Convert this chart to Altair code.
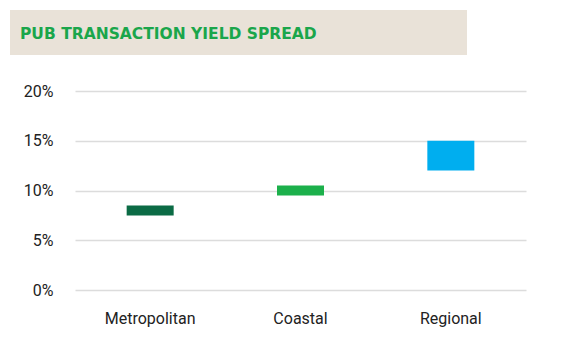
import altair as alt
import pandas as pd

regions = ["Metropolitan", "Coastal", "Regional"]
low = [0.075, 0.095, 0.12]
high = [0.085, 0.105, 0.15]
colors = ["#0b6b45", "#1cb04b", "#00aeef"]
title_text = "PUB TRANSACTION YIELD SPREAD"

df = pd.DataFrame({"region": regions, "low": low, "high": high, "color": colors})

label_font = "Roboto"

base = alt.Chart(df)

bars = base.mark_bar(size=47).encode(
    x=alt.X("region:N", sort=regions, title=None,
            scale=alt.Scale(paddingInner=0, paddingOuter=0),
            axis=alt.Axis(labelAngle=0, domain=False, ticks=False, grid=False, labelPadding=20,
                          labelFont=label_font, labelFontSize=16, labelColor="#222222")),
    y=alt.Y("low:Q", title=None,
            scale=alt.Scale(domain=[0, 0.2], nice=False),
            axis=alt.Axis(values=[0, 0.05, 0.1, 0.15, 0.2], format=".0%", domain=False, ticks=False,
                          labelPadding=22, labelFont=label_font, labelFontSize=16,
                          labelColor="#222222", gridColor="#dcdcdc", gridWidth=1.5)),
    y2="high:Q",
    color=alt.Color("color:N", scale=None),
)

header_df = pd.DataFrame({"t": [title_text]})
header_rect = alt.Chart(header_df).mark_rect(color="#e9e2d8").encode(
    x=alt.value(-65), x2=alt.value(392), y=alt.value(-81), y2=alt.value(-36)
)
header_text = alt.Chart(header_df).mark_text(
    align="left", baseline="alphabetic", font="DejaVu Sans", fontWeight="bold", fontSize=15.5,
    color="#1aa64b"
).encode(text="t:N", x=alt.value(-55), y=alt.value(-52))

chart = alt.layer(header_rect, header_text, bars).properties(
    width=451, height=199,
    background="white",
    autosize=alt.AutoSizeParams(type="none"),
    padding={"left": 75, "top": 91, "right": 54, "bottom": 62},
).configure_view(stroke=None)

chart.save("out.html", embed_options={"renderer": "svg", "actions": False})
